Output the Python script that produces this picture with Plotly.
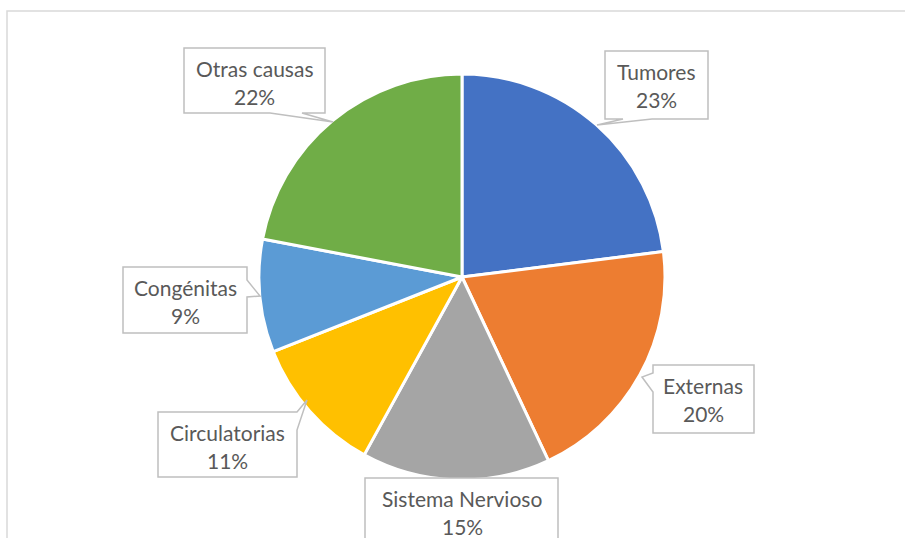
import plotly.graph_objects as go

# Datos
causas = ["Tumores", "Externas", "Sistema Nervioso", "Circulatorias", "Congénitas", "Otras causas"]
porcentajes = [23, 20, 15, 11, 9, 22]
colores = ["#4472C4", "#ED7D31", "#A5A5A5", "#FFC000", "#5B9BD5", "#70AD47"]

W, H = 905, 538
cx, cy, r = 462, 277, 203

# callout boxes (pixel coords): outline path, text centre x, top of box
callouts = {
    "Otras causas": ("M184,48 L325,48 L325,113 L302,113 L333,122 L270,113 L184,113 Z", 254, 48),
    "Tumores": ("M605,51 L708,51 L708,119 L652,119 L597,125 L623,119 L605,119 Z", 656, 51),
    "Congénitas": ("M123,267 L247,267 L247,280 L260,296 L247,297 L247,333 L123,333 Z", 185, 267),
    "Circulatorias": ("M158,412 L297,412 L307,400 L297,430 L297,477 L158,477 Z", 227, 412),
    "Sistema Nervioso": ("M365,478 L558,478 L558,560 L365,560 Z", 462, 478),
    "Externas": ("M653,365 L754,365 L754,433 L653,433 L653,392 L642,377 L653,373 Z", 703, 365),
}

fig = go.Figure()

fig.add_trace(go.Pie(
    labels=causas,
    values=porcentajes,
    sort=False,
    direction="clockwise",
    rotation=0,
    marker=dict(colors=colores, line=dict(color="white", width=3)),
    textinfo="none",
    hoverinfo="label+percent",
    showlegend=False,
    domain=dict(x=[(cx - r) / W, (cx + r) / W],
                y=[(H - cy - r) / H, (H - cy + r) / H]),
))

shapes = [dict(type="rect", x0=7, y0=11, x1=920, y1=560,
               line=dict(color="#D9D9D9", width=1.5), layer="below")]
annotations = []
total = sum(porcentajes)
for nombre, valor in zip(causas, porcentajes):
    path, xc, top = callouts[nombre]
    shapes.append(dict(type="path", path=path, fillcolor="white",
                       line=dict(color="#BFBFBF", width=1.5), layer="above"))
    annotations.append(dict(x=xc, y=top + 20, text=nombre, showarrow=False,
                            xref="x", yref="y", font=dict(size=21, color="#595959")))
    annotations.append(dict(x=xc, y=top + 48, text=f"{round(valor / total * 100)}%",
                            showarrow=False, xref="x", yref="y",
                            font=dict(size=21, color="#595959")))

fig.update_layout(
    width=W, height=H,
    margin=dict(l=0, r=0, t=0, b=0),
    paper_bgcolor="white", plot_bgcolor="rgba(0,0,0,0)",
    font=dict(family="Lato, Carlito, sans-serif"),
    xaxis=dict(range=[0, W], visible=False, fixedrange=True),
    yaxis=dict(range=[H, 0], visible=False, fixedrange=True),
    shapes=shapes,
    annotations=annotations,
)

fig.write_html("out.html", config={"displayModeBar": False},
               post_script="document.body.style.margin='0px';")
